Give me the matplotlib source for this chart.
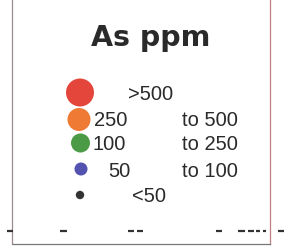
import matplotlib
matplotlib.use("Agg")
import matplotlib.pyplot as plt
from matplotlib.patches import Circle

title = "As ppm"
lower_labels = [">500", "250", "100", "50", "<50"]
upper_labels = ["", "to 500", "to 250", "to 100", ""]
colors = ["#e4463c", "#ef7a34", "#4b9a46", "#5452b0", "#333333"]
radii = [14, 11.5, 9.5, 6.5, 4.2]

W, H = 290, 251
fig = plt.figure(figsize=(W / 100, H / 100), dpi=100)
ax = fig.add_axes([0, 0, 1, 1])
ax.set_xlim(0, W)
ax.set_ylim(H, 0)
ax.axis("off")

font = "Liberation Sans"
# frame
ax.plot([11.5, 11.5], [0, 245], color="#9a8a8a", lw=0.9)
ax.plot([270, 270], [0, 245], color="#c08080", lw=0.9)
ax.plot([13, 270], [245, 245], color="#777777", lw=0.9)
# dashes
for x0, x1 in [(7, 13), (60, 67), (128, 134), (137, 143), (216, 222),
               (238, 245), (248, 254), (256, 260), (263, 266), (278, 284)]:
    ax.plot([x0, x1], [232, 232], color="#333333", lw=1.6, solid_capstyle="butt")

ax.text(151, 38, title, fontsize=20.5, fontweight="bold", family="DejaVu Sans",
        color="#2a2a2a", ha="center", va="center")

cy = [93.5, 120.5, 144, 170, 196]
cx = [80, 79, 80.5, 81, 80]
lx = [128, 94, 93, 108, 132]
ly = [94, 120, 144, 171, 196]
for i in range(len(lower_labels)):
    ax.add_patch(Circle((cx[i], cy[i]), radii[i], color=colors[i], lw=0))
    ax.text(lx[i], ly[i] + 1, lower_labels[i], fontsize=14.5, family=font,
            color="#2a2a2a", ha="left", va="center")
    if upper_labels[i]:
        ax.text(182, ly[i] + 1, upper_labels[i], fontsize=14.5, family=font,
                color="#2a2a2a", ha="left", va="center")

fig.savefig("out.png", dpi=100, facecolor="white")
